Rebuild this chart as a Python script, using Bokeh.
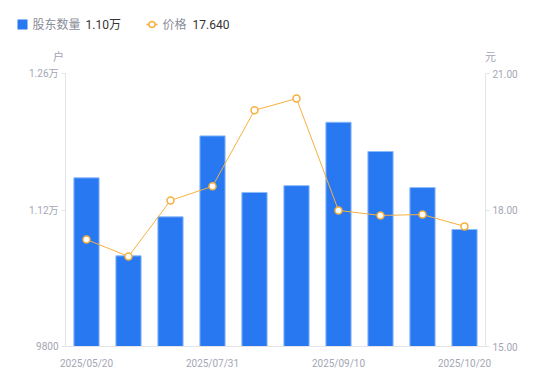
from bokeh.plotting import figure
from bokeh.models import Range1d, LinearAxis, FixedTicker, ColumnDataSource
from bokeh.layouts import column
from bokeh.core.properties import value
from bokeh.embed import file_html
from bokeh.resources import INLINE

dates = ["2025/05/20", "2025/06/10", "2025/06/30", "2025/07/31", "2025/08/10",
         "2025/08/31", "2025/09/10", "2025/09/19", "2025/09/30", "2025/10/20"]
holders = [11530, 10730, 11130, 11960, 11380, 11450, 12100, 11800, 11430, 11000]
prices = [17.35, 16.98, 18.21, 18.52, 20.19, 20.45, 17.99, 17.88, 17.90, 17.64]
shown_idx = [0, 3, 6, 9]
left_ticks = [9800, 11200, 12600]
left_tick_labels = ["9800", "1.12万", "1.26万"]
right_ticks = [15, 18, 21]
right_tick_labels = ["15.00", "18.00", "21.00"]
series_names = ["股东数量", "价格"]
units = ["户", "元"]

FONT = "Roboto, Noto Sans CJK SC"
GREY = "#A3A6B4"
AXIS = "#E3E4E8"
BLUE = "#2878F2"
ORANGE = "#F6B03F"

# ---------------- header (legend + units) ----------------
hdr = figure(width=550, height=65, x_range=Range1d(0, 550), y_range=Range1d(65, 0),
             x_axis_type=None, y_axis_type=None, output_backend="svg",
             toolbar_location=None, title=None, min_border=0,
             min_border_left=0, min_border_right=0, min_border_top=0, min_border_bottom=0)
hdr.frame_align = False
hdr.outline_line_color = None
hdr.xgrid.visible = False
hdr.ygrid.visible = False

hdr.rect(x=[22], y=[24], width=10, height=10, fill_color=BLUE, line_color=None)
hdr.segment(x0=[146], y0=[24], x1=[157], y1=[24], line_color=ORANGE, line_width=1.5)
hdr.scatter(x=[151.5], y=[24], size=6, fill_color="white", line_color=ORANGE, line_width=1.5)

last_h = f"{holders[-1] / 10000:.2f}万"
last_p = f"{prices[-1]:.3f}"
hdr.text(x=[32, 162], y=[24, 24], text=series_names, text_font=value(FONT),
         text_font_size="12px", text_color="#8A8D99", text_baseline="middle", text_align="left")
hdr.text(x=[85, 192], y=[24, 24], text=[last_h, last_p], text_font=value(FONT),
         text_font_size="12px", text_color="#333333", text_baseline="middle", text_align="left")
hdr.text(x=[58, 490], y=[57, 57], text=units, text_font=value(FONT),
         text_font_size="11px", text_color=GREY, text_baseline="middle", text_align="center")

# ---------------- main chart ----------------
xs = list(range(len(dates)))
src = ColumnDataSource(dict(x=xs, h=holders, p=prices))

p = figure(width=550, height=316, x_range=Range1d(-0.5, len(dates) - 0.5),
           y_range=Range1d(9800, 12600), output_backend="svg", toolbar_location=None,
           title=None, min_border_left=65, min_border_right=65, min_border_top=8,
           min_border_bottom=35)
p.frame_align = False
p.extra_y_ranges = {"price": Range1d(15, 21)}
p.outline_line_color = None
p.xgrid.visible = False
p.ygrid.visible = False

p.vbar(x="x", top="h", bottom=9800, width=0.6, source=src,
       fill_color=BLUE, line_color="#8DBBF9", line_width=1)
p.line(x="x", y="p", source=src, y_range_name="price", line_color=ORANGE, line_width=1)
p.scatter(x="x", y="p", source=src, y_range_name="price", size=7,
          fill_color="white", line_color=ORANGE, line_width=1.5)

xa = p.xaxis[0]
xa.ticker = FixedTicker(ticks=shown_idx)
xa.major_label_overrides = {i: dates[i] for i in shown_idx}
xa.axis_line_color = AXIS
xa.major_tick_line_color = None
xa.minor_tick_line_color = None
xa.major_label_text_color = GREY
xa.major_label_text_font = FONT
xa.major_label_text_font_size = "10px"
xa.major_label_standoff = 5

ya = p.yaxis[0]
ya.ticker = FixedTicker(ticks=left_ticks)
ya.major_label_overrides = {t: l for t, l in zip(left_ticks, left_tick_labels)}
ya.axis_line_color = AXIS
ya.major_tick_line_color = AXIS
ya.major_tick_out = 4
ya.major_tick_in = 0
ya.minor_tick_line_color = None
ya.major_label_text_color = GREY
ya.major_label_text_font = FONT
ya.major_label_text_font_size = "10px"
ya.major_label_standoff = 3

ra = LinearAxis(y_range_name="price", ticker=FixedTicker(ticks=right_ticks))
ra.major_label_overrides = {t: l for t, l in zip(right_ticks, right_tick_labels)}
ra.axis_line_color = AXIS
ra.major_tick_line_color = AXIS
ra.major_tick_out = 4
ra.major_tick_in = 0
ra.minor_tick_line_color = None
ra.major_label_text_color = GREY
ra.major_label_text_font = FONT
ra.major_label_text_font_size = "10px"
ra.major_label_standoff = 3
p.add_layout(ra, "right")

layout = column(hdr, p, spacing=0)
open("out.html", "w").write(file_html(layout, INLINE))
